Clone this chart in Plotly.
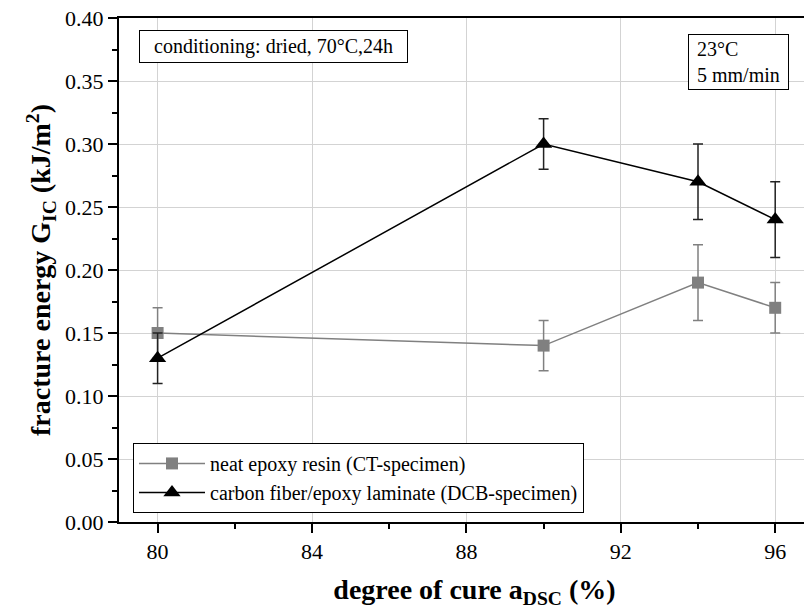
import plotly.graph_objects as go

cure = [80, 90, 94, 96]
neat_g = [0.15, 0.14, 0.19, 0.17]
neat_err_plus = [0.02, 0.02, 0.03, 0.02]
neat_err_minus = [0.02, 0.02, 0.03, 0.02]
cf_g = [0.13, 0.30, 0.27, 0.24]
cf_err_plus = [0.02, 0.02, 0.03, 0.03]
cf_err_minus = [0.02, 0.02, 0.03, 0.03]

x_ticks = [80, 84, 88, 92, 96]
y_ticks = [0.00, 0.05, 0.10, 0.15, 0.20, 0.25, 0.30, 0.35, 0.40]

FONT = "Liberation Serif"
GRAY = "#808080"

W = 830  # wider than window: right edge of the frame is cropped like the reference
L = 119

fig = go.Figure()
fig.add_trace(go.Scatter(
    x=cure, y=neat_g, mode="lines+markers",
    name="neat epoxy resin (CT-specimen)",
    line=dict(color=GRAY, width=1.5),
    marker=dict(symbol="square", size=12, color=GRAY),
    error_y=dict(type="data", symmetric=False, array=neat_err_plus,
                 arrayminus=neat_err_minus, color=GRAY, thickness=1.5, width=5),
))
fig.add_trace(go.Scatter(
    x=cure, y=cf_g, mode="lines+markers",
    name="carbon fiber/epoxy laminate (DCB-specimen)",
    line=dict(color="black", width=1.5),
    marker=dict(symbol="triangle-up", size=15, color="black"),
    error_y=dict(type="data", symmetric=False, array=cf_err_plus,
                 arrayminus=cf_err_minus, color="#222222", thickness=1.5, width=5),
))

PW = W - L
fig.update_layout(
    width=W, height=611,
    margin=dict(l=L, r=0, t=18, b=89),
    paper_bgcolor="white", plot_bgcolor="white",
    font=dict(family=FONT, size=22, color="black"),
    showlegend=True,
    legend=dict(
        x=(133 - L) / PW, y=0.018, xanchor="left", yanchor="bottom",
        bgcolor="white", bordercolor="black", borderwidth=1,
        font=dict(family=FONT, size=20, color="black"),
        tracegroupgap=0, itemwidth=66,
    ),
    xaxis=dict(
        range=[79.0, 79.0 + PW / 38.6], tickvals=x_ticks, ticktext=[str(v) for v in x_ticks],
        showgrid=True, gridcolor="#d3d3d3", gridwidth=1,
        showline=True, linecolor="black", linewidth=2, mirror=True,
        ticks="outside", ticklen=9, tickwidth=2, tickcolor="black",
        minor=dict(dtick=2, tick0=80, ticks="outside", ticklen=5, tickwidth=1.5,
                   tickcolor="black", showgrid=False),
        zeroline=False,
        tickfont=dict(size=22, color="black"),
        title=dict(text="<b>degree of cure a<sub>DSC</sub> (%)</b>",
                   font=dict(family=FONT, size=28), standoff=16),
        automargin=False,
    ),
    yaxis=dict(
        range=[0, 0.40], tickvals=y_ticks, ticktext=[f"{v:.2f}" for v in y_ticks],
        showgrid=True, gridcolor="#d3d3d3", gridwidth=1,
        showline=True, linecolor="black", linewidth=2, mirror=False,
        ticks="outside", ticklen=9, tickwidth=2, tickcolor="black",
        minor=dict(dtick=0.025, tick0=0, ticks="outside", ticklen=5, tickwidth=1.5,
                   tickcolor="black", showgrid=False),
        zeroline=False,
        tickfont=dict(size=22, color="black"),
        title=dict(text="<b>fracture energy G<sub>IC</sub> (kJ/m<sup>2</sup>)</b>",
                   font=dict(family=FONT, size=28), standoff=6),
        automargin=False,
    ),
    annotations=[
        dict(text="&nbsp;&nbsp;conditioning: dried, 70°C,24h&nbsp;&nbsp;", xref="paper", yref="paper",
             x=(139 - L) / PW, y=(522 - 30) / 504, xanchor="left", yanchor="top",
             showarrow=False, bordercolor="black", borderwidth=1, borderpad=4,
             bgcolor="white", font=dict(family=FONT, size=20, color="black")),
        dict(text="&nbsp;23°C<br>&nbsp;5 mm/min&nbsp;", xref="paper", yref="paper", align="left",
             x=(688 - L) / PW, y=(522 - 34) / 504, xanchor="left", yanchor="top",
             showarrow=False, bordercolor="black", borderwidth=1, borderpad=3,
             bgcolor="white", font=dict(family=FONT, size=20, color="black")),
    ],
)

fig.write_html("out.html", config={"displayModeBar": False},
               post_script="document.documentElement.style.overflow='hidden';"
                           "document.body.style.margin='0';document.body.style.overflow='hidden';")
